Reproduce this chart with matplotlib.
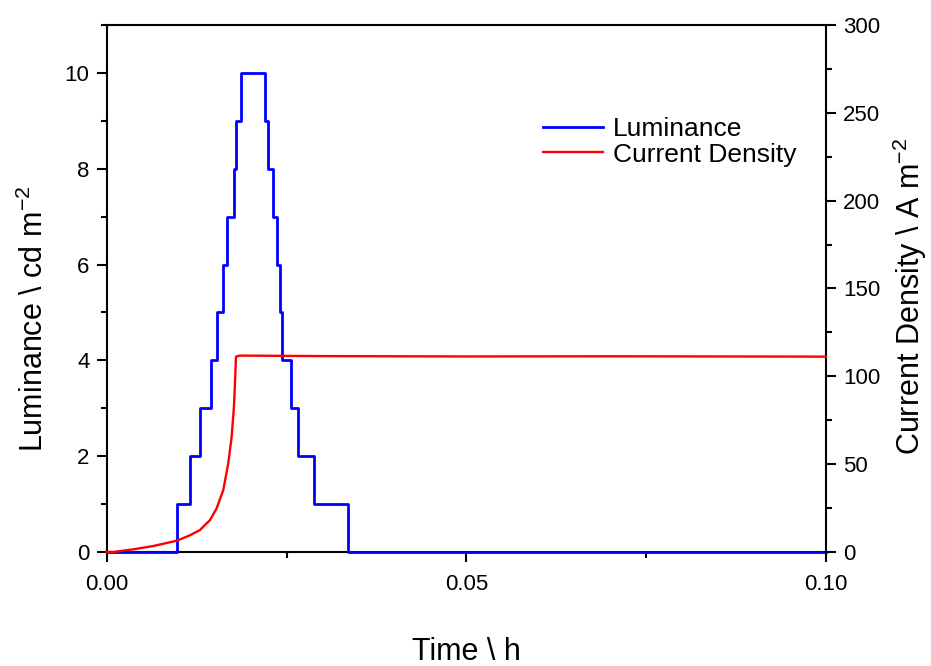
import matplotlib
matplotlib.use("Agg")
import matplotlib.pyplot as plt
from matplotlib.ticker import MultipleLocator, FormatStrFormatter

plt.rcParams["font.family"] = ["Liberation Sans", "DejaVu Sans"]
plt.rcParams["mathtext.default"] = "regular"

# ===== data =====
# luminance: step changes, time in h
t_lum = [0.0, 0.0097, 0.0116, 0.0129, 0.0144, 0.0153, 0.0162, 0.0167, 0.0176,
         0.0180, 0.0187, 0.0220, 0.0224, 0.0231, 0.0236, 0.0241, 0.0244,
         0.0256, 0.0266, 0.0288, 0.0335, 0.1]
lum = [0, 1, 2, 3, 4, 5, 6, 7, 8, 9, 10, 9, 8, 7, 6, 5, 4, 3, 2, 1, 0, 0]

# current density
t_cur = [0.0, 0.00088, 0.00366, 0.00644, 0.00969, 0.01154, 0.01293, 0.01433,
         0.01526, 0.01618, 0.01687, 0.01734, 0.01766, 0.01784, 0.01794,
         0.0185, 0.030, 0.050, 0.070, 0.100]
cur = [0.0, 0.0, 1.5, 3.4, 6.4, 9.5, 12.5, 18.2, 24.9, 35.3, 50.5, 65.6,
       82.7, 99.8, 111.2, 111.8, 111.5, 111.3, 111.4, 111.2]

# ===== params =====
c_lum = "#0000ff"
c_cur = "#ff0000"
tick_size = 16
label_size = 22
legend_size = 19

fig = plt.figure(figsize=(9.31, 6.66), dpi=100)
ax = fig.add_axes([0.1149, 0.1712, 0.7723, 0.7913])
ax2 = ax.twinx()

l1, = ax.plot(t_lum, lum, drawstyle="steps-post", c=c_lum, lw=2.0,
              label="Luminance", clip_on=False, zorder=5)
l2, = ax2.plot(t_cur, cur, c=c_cur, lw=1.7, label="Current Density",
               clip_on=False, zorder=5)

ax.set_xlim(0, 0.1)
ax.set_ylim(0, 11)
ax2.set_ylim(0, 300)

ax.xaxis.set_major_locator(MultipleLocator(0.05))
ax.xaxis.set_minor_locator(MultipleLocator(0.025))
ax.xaxis.set_major_formatter(FormatStrFormatter("%.2f"))
ax.yaxis.set_major_locator(MultipleLocator(2))
ax.yaxis.set_minor_locator(MultipleLocator(1))
ax2.yaxis.set_major_locator(MultipleLocator(50))
ax2.yaxis.set_minor_locator(MultipleLocator(25))

for a in (ax, ax2):
    for s in a.spines.values():
        s.set_linewidth(1.5)
    a.tick_params(which="major", direction="out", length=7.5, width=1.5,
                  labelsize=tick_size, pad=5)
    a.tick_params(which="minor", direction="out", length=4, width=1.5)
ax.tick_params(axis="x", which="both", top=False)
ax.tick_params(axis="x", which="major", pad=8)
# only the right spine comes from the twin, so the data lines stay on top
for side in ("bottom", "top", "left"):
    ax2.spines[side].set_visible(False)
ax.spines["right"].set_visible(False)

ax.set_xlabel(r"Time \ h", fontsize=label_size)
ax.set_ylabel(r"Luminance \ cd m$^{-2}$", fontsize=label_size)
ax2.set_ylabel(r"Current Density \ A m$^{-2}$", fontsize=label_size)
ax.xaxis.set_label_coords(0.5, -0.161)
ax.yaxis.set_label_coords(-0.079, 0.442)
ax2.yaxis.set_label_coords(1.09, 0.484)

fig.legend(handles=[l1, l2], loc="upper left", bbox_to_anchor=(0.583, 0.824),
           frameon=False, fontsize=legend_size, borderpad=0, borderaxespad=0,
           handlelength=2.3, handletextpad=0.35, labelspacing=0.05)

fig.savefig("out.png", dpi=100)
